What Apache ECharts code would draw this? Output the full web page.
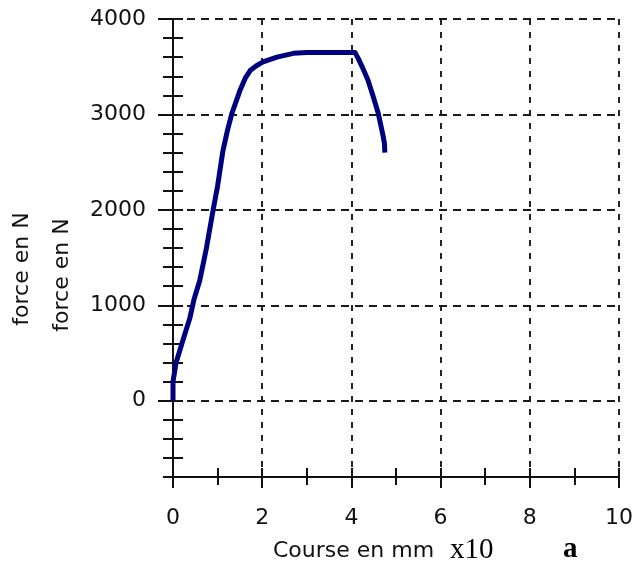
<!DOCTYPE html>
<html>
<head>
<meta charset="utf-8">
<script src="https://cdn.jsdelivr.net/npm/echarts@6/dist/echarts.min.js"></script>
<style>
  html, body { margin: 0; padding: 0; background: #fff; }
  #chart { width: 642px; height: 574px; }
</style>
</head>
<body>
<div id="chart"></div>
<script>
// Tensile test: force (N) against crosshead travel (mm x10)
const course = [0, 0, 0.07, 0.2, 0.38, 0.47, 0.6, 0.75, 0.9, 1.0, 1.12, 1.22, 1.32, 1.5, 1.62, 1.73, 1.87, 2.02, 2.33, 2.7, 3.0, 4.08, 4.15, 4.26, 4.37, 4.48, 4.6, 4.7, 4.74, 4.75];
const force  = [0, 200, 400, 600, 870, 1060, 1260, 1600, 2000, 2250, 2620, 2830, 3010, 3250, 3380, 3460, 3510, 3550, 3600, 3640, 3650, 3650, 3590, 3480, 3360, 3200, 3015, 2800, 2700, 2600];

const xTickLabels = ['0', '2', '4', '6', '8', '10'];
const yTickLabels = ['0', '1000', '2000', '3000', '4000'];
const yGridValues = [0, 1000, 2000, 3000, 4000];

const X_MIN = 0, X_MAX = 10;
const Y_MIN = -800, Y_MAX = 4000;

const INK = '#111';
const SANS = 'DejaVu Sans';

const chart = echarts.init(document.getElementById('chart'), null, { renderer: 'canvas' });

const baseX = { type: 'value', min: X_MIN, max: X_MAX, position: 'bottom' };
const baseY = { type: 'value', min: Y_MIN, max: Y_MAX, position: 'left' };
const tickStyle = { color: INK, width: 2 };
const gridStyle = { color: '#1a1a1a', width: 1.9 };

chart.setOption({
  animation: false,
  backgroundColor: '#fff',
  grid: { left: 173, right: 23, top: 19, bottom: 97, containLabel: false },
  xAxis: [
    Object.assign({}, baseX, {
      interval: 1,
      axisLine: { show: true, onZero: false, lineStyle: { color: INK, width: 2 } },
      axisTick: { show: true, inside: false, length: 8, lineStyle: tickStyle },
      axisLabel: {
        show: true, margin: 30, color: INK, fontFamily: SANS, fontSize: 22,
        formatter: v => (xTickLabels.includes(String(v)) ? String(v) : '')
      },
      splitLine: { show: false }
    }),
    Object.assign({}, baseX, {
      interval: 1,
      axisLine: { show: false, onZero: false },
      axisTick: { show: true, inside: true, length: 9, lineStyle: tickStyle },
      axisLabel: { show: false },
      splitLine: { show: false }
    }),
    Object.assign({}, baseX, {
      interval: 2,
      axisLine: { show: false, onZero: false },
      axisTick: { show: true, inside: false, length: 11, lineStyle: tickStyle },
      axisLabel: { show: false },
      splitLine: { show: true, lineStyle: Object.assign({ type: [6, 7] }, gridStyle) }
    })
  ],
  yAxis: [
    Object.assign({}, baseY, {
      interval: 200,
      axisLine: { show: true, onZero: false, lineStyle: { color: INK, width: 2 } },
      axisTick: { show: true, inside: false, length: 10, lineStyle: tickStyle },
      axisLabel: {
        show: true, margin: 27, color: INK, fontFamily: SANS, fontSize: 22,
        formatter: v => (yTickLabels.includes(String(v)) ? String(v) : '')
      },
      splitLine: { show: false }
    }),
    Object.assign({}, baseY, {
      interval: 200,
      axisLine: { show: false, onZero: false },
      axisTick: { show: true, inside: true, length: 10, lineStyle: tickStyle },
      axisLabel: { show: false },
      splitLine: { show: false }
    }),
    Object.assign({}, baseY, {
      interval: 200,
      axisLine: { show: false, onZero: false },
      axisTick: { show: true, inside: false, length: 15, lineStyle: tickStyle, customValues: yGridValues },
      axisLabel: { show: false },
      splitLine: { show: false }
    })
  ],
  series: [{
    type: 'line',
    xAxisIndex: 0,
    yAxisIndex: 0,
    data: course.map((c, i) => [c, force[i]]),
    showSymbol: false,
    clip: false,
    z: 5,
    lineStyle: { color: '#00007f', width: 5, join: 'round', cap: 'butt' },
    markLine: {
      silent: true,
      symbol: 'none',
      label: { show: false },
      animation: false,
      lineStyle: Object.assign({ type: [8, 6] }, gridStyle),
      data: yGridValues.map(v => ({ yAxis: v }))
    }
  }],
  graphic: [
    {
      type: 'text', x: 22, y: 269, rotation: Math.PI / 2,
      style: { text: 'force en N', fontFamily: SANS, fontSize: 22, fill: INK, align: 'center', verticalAlign: 'middle' }
    },
    {
      type: 'text', x: 62, y: 275, rotation: Math.PI / 2,
      style: { text: 'force en N', fontFamily: SANS, fontSize: 22, fill: INK, align: 'center', verticalAlign: 'middle' }
    },
    {
      type: 'text', x: 273, y: 551,
      style: { text: 'Course en mm', fontFamily: SANS, fontSize: 22, fill: INK, align: 'left', verticalAlign: 'middle' }
    },
    {
      type: 'text', x: 450, y: 550,
      style: { text: 'x10', fontFamily: 'Liberation Serif', fontSize: 29, fill: '#000', align: 'left', verticalAlign: 'middle' }
    },
    {
      type: 'text', x: 563, y: 550,
      style: { text: 'a', fontFamily: 'Liberation Serif', fontSize: 29, fontWeight: 'bold', fill: '#000', align: 'left', verticalAlign: 'middle' }
    }
  ]
});
</script>
</body>
</html>
